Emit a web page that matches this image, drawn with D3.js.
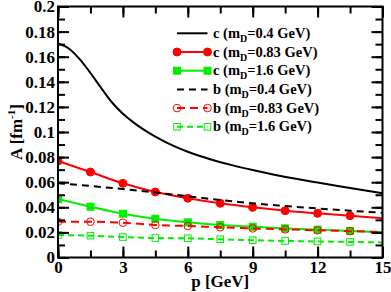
<!DOCTYPE html>
<html>
<head>
<meta charset="utf-8">
<script src="https://cdn.jsdelivr.net/npm/d3@7"></script>
<style>
  body { margin: 0; background: #fff; }
</style>
</head>
<body>
<script>
// momentum grid for the dense c (mD=0.4) curve
const pDense = [0, 0.5, 1, 1.5, 2, 2.5, 3, 3.5, 4, 4.5, 5, 5.5, 6, 7, 8, 9, 10, 11, 12, 13, 14, 15];
const cMd04 = [0.1705, 0.1665, 0.158, 0.147, 0.135, 0.1235, 0.1145, 0.1075, 0.1015, 0.0963, 0.0918, 0.0878, 0.0843,
  0.0785, 0.0738, 0.0697, 0.066, 0.0627, 0.0597, 0.0568, 0.054, 0.0512];

// grid for the other curves (symbols every 1.5 GeV)
const pGrid = [0, 1.5, 3, 4.5, 6, 7.5, 9, 10.5, 12, 13.5, 15];
const cMd083 = [0.0769, 0.0681, 0.0591, 0.0522, 0.0472, 0.0432, 0.0400, 0.0373, 0.0352, 0.0333, 0.0312];
const cMd16 = [0.0466, 0.0405, 0.0349, 0.0309, 0.0280, 0.0259, 0.0245, 0.0232, 0.0222, 0.0212, 0.0203];
const bMd04 = [0.0591, 0.0570, 0.0545, 0.0518, 0.0488, 0.0458, 0.0432, 0.0410, 0.0391, 0.0373, 0.0356];
const bMd083 = [0.0285, 0.0285, 0.0277, 0.0259, 0.0251, 0.0241, 0.0232, 0.0224, 0.0217, 0.0210, 0.0203];
const bMd16 = [0.0179, 0.0174, 0.0163, 0.0155, 0.0153, 0.0145, 0.0138, 0.0132, 0.0128, 0.0124, 0.0120];

const xTicks = [0, 3, 6, 9, 12, 15];
const yTicks = [0, 0.02, 0.04, 0.06, 0.08, 0.1, 0.12, 0.14, 0.16, 0.18, 0.2];
const legendQuark = ["c", "c", "c", "b", "b", "b"];
const legendMass = ["0.4", "0.83", "1.6", "0.4", "0.83", "1.6"];

const width = 391, height = 292;
const m = { left: 58, right: 382.5, top: 6.5, bottom: 257.5 };
const FONT = "'Liberation Serif', 'DejaVu Serif', serif";

const svg = d3.select("body").append("svg")
  .attr("width", width)
  .attr("height", height)
  .style("font-family", FONT)
  .style("font-weight", "bold");

const x = d3.scaleLinear().domain([0, 15]).range([m.left, m.right]);
const y = d3.scaleLinear().domain([0, 0.2]).range([m.bottom, m.top]);

svg.append("clipPath").attr("id", "clip")
  .append("rect").attr("x", m.left).attr("y", m.top)
  .attr("width", m.right - m.left).attr("height", m.bottom - m.top);

// series description (styles only, values come from arrays above)
const series = [
  { p: pDense, v: cMd04, color: "#000", dash: null, sym: null },
  { p: pGrid, v: cMd083, color: "#ff0000", dash: null, sym: "circle", fill: true },
  { p: pGrid, v: cMd16, color: "#00ee00", dash: null, sym: "square", fill: true },
  { p: pGrid, v: bMd04, color: "#000", dash: "7,5", sym: null },
  { p: pGrid, v: bMd083, color: "#ff0000", dash: "8,5", sym: "circle", fill: false },
  { p: pGrid, v: bMd16, color: "#00ee00", dash: "6,4", sym: "square", fill: false },
];

const line = d3.line()
  .x(d => x(d[0]))
  .y(d => y(d[1]))
  .curve(d3.curveMonotoneX);

const plot = svg.append("g").attr("clip-path", "url(#clip)");

function drawSymbol(g, s, cx, cy) {
  if (s.sym === "circle") {
    g.append("circle").attr("cx", cx).attr("cy", cy).attr("r", s.fill ? 4 : 3.8)
      .attr("fill", s.fill ? s.color : "none")
      .attr("stroke", s.color).attr("stroke-width", 1);
  } else if (s.sym === "square") {
    const h = s.fill ? 3.5 : 3.3;
    g.append("rect").attr("x", cx - h).attr("y", cy - h).attr("width", 2 * h).attr("height", 2 * h)
      .attr("fill", s.fill ? s.color : "none")
      .attr("stroke", s.color).attr("stroke-width", 1);
  }
}

series.forEach(s => {
  const pts = s.p.map((p, i) => [p, s.v[i]]);
  plot.append("path")
    .attr("d", line(pts))
    .attr("fill", "none")
    .attr("stroke", s.color)
    .attr("stroke-width", 2)
    .attr("stroke-dasharray", s.dash);
  if (s.sym) {
    const g = plot.append("g");
    pts.filter(d => d[0] < 15).forEach(d => drawSymbol(g, s, x(d[0]), y(d[1])));
  }
});

// axes with inward ticks on all four sides
const fmtY = d => d === 0 ? "0" : String(+d.toFixed(2));
const minorX = d3.range(0, 15.01, 1.5);
const minorY = d3.range(0, 0.2001, 0.01);

function styleAxis(g) {
  g.attr("font-family", null).attr("font-size", null);
  g.select(".domain").remove();
  g.selectAll("line").attr("stroke", "#000").attr("stroke-width", 2);
  g.selectAll("text").attr("fill", "#000")
    .style("font-family", FONT).style("font-weight", "bold").style("font-size", "17px");
}

svg.append("g").attr("transform", `translate(0,${m.bottom})`)
  .call(d3.axisBottom(x).tickValues(minorX).tickSize(-7).tickFormat("")).call(styleAxis);
svg.append("g").attr("transform", `translate(0,${m.bottom})`)
  .call(d3.axisBottom(x).tickValues(xTicks).tickSize(-11).tickPadding(3).tickFormat(d3.format("d"))).call(styleAxis);
svg.append("g").attr("transform", `translate(0,${m.top})`)
  .call(d3.axisTop(x).tickValues(minorX).tickSize(-7).tickFormat("")).call(styleAxis);
svg.append("g").attr("transform", `translate(0,${m.top})`)
  .call(d3.axisTop(x).tickValues(xTicks).tickSize(-11).tickFormat("")).call(styleAxis);

svg.append("g").attr("transform", `translate(${m.left},0)`)
  .call(d3.axisLeft(y).tickValues(minorY).tickSize(-7).tickFormat("")).call(styleAxis);
svg.append("g").attr("transform", `translate(${m.left},0)`)
  .call(d3.axisLeft(y).tickValues(yTicks).tickSize(-11).tickPadding(3).tickFormat(fmtY)).call(styleAxis);
svg.append("g").attr("transform", `translate(${m.right},0)`)
  .call(d3.axisRight(y).tickValues(minorY).tickSize(-7).tickFormat("")).call(styleAxis);
svg.append("g").attr("transform", `translate(${m.right},0)`)
  .call(d3.axisRight(y).tickValues(yTicks).tickSize(-11).tickFormat("")).call(styleAxis);

svg.append("rect")
  .attr("x", m.left).attr("y", m.top)
  .attr("width", m.right - m.left).attr("height", m.bottom - m.top)
  .attr("fill", "none").attr("stroke", "#000").attr("stroke-width", 2);

// axis titles
svg.append("text")
  .attr("x", (m.left + m.right) / 2).attr("y", 287)
  .attr("text-anchor", "middle")
  .style("font-size", "17px")
  .text("p [GeV]");

const yt = svg.append("text")
  .attr("transform", `translate(22,${(m.top + m.bottom) / 2}) rotate(-90)`)
  .attr("text-anchor", "middle")
  .style("font-size", "17px");
yt.append("tspan").text("A [fm");
yt.append("tspan").attr("dy", -7).style("font-size", "11px").text("-1");
yt.append("tspan").attr("dy", 7).text("]");

// legend
const legY0 = 33.3, legDy = 18.7, lx0 = 177, lx1 = 207.5, tx = 213;
series.forEach((s, i) => {
  const ly = legY0 + i * legDy;
  const g = svg.append("g");
  g.append("line")
    .attr("x1", lx0).attr("x2", lx1).attr("y1", ly).attr("y2", ly)
    .attr("stroke", s.color).attr("stroke-width", 2)
    .attr("stroke-dasharray", s.dash);
  if (s.sym) {
    drawSymbol(g, s, lx0, ly);
    drawSymbol(g, s, lx1, ly);
  }
  const t = g.append("text").attr("x", tx).attr("y", ly + 4.5).style("font-size", "14.5px");
  t.append("tspan").text(`${legendQuark[i]} (m`);
  t.append("tspan").attr("dy", 4).style("font-size", "10px").text("D");
  t.append("tspan").attr("dy", -4).text(`=${legendMass[i]} GeV)`);
});
</script>
</body>
</html>
